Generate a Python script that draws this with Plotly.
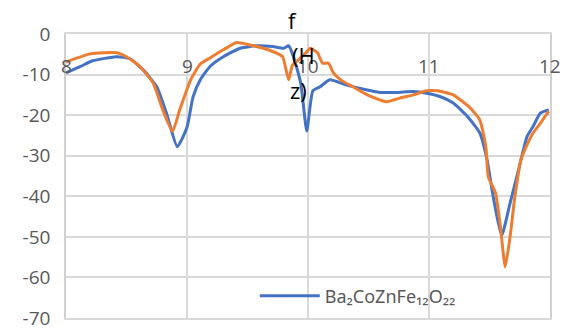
import plotly.graph_objects as go

blue_x = [8.0, 8.12, 8.22, 8.42, 8.53, 8.64, 8.75, 8.83, 8.92, 9.0, 9.05, 9.11, 9.19, 9.3, 9.44, 9.58,
          9.71, 9.8, 9.84, 9.88, 9.94, 9.99, 10.04, 10.1, 10.18, 10.32, 10.49, 10.6, 10.74, 10.87,
          10.98, 11.09, 11.2, 11.32, 11.42, 11.48, 11.53, 11.6, 11.67, 11.74, 11.81, 11.86, 11.92, 11.99]
blue_y = [-9.6, -8.0, -6.6, -5.6, -6.1, -8.9, -13, -19.5, -27.8, -23, -15.5, -11.3, -8, -5.6, -3.5, -2.9,
          -3.1, -3.5, -2.9, -5.6, -12.1, -23.9, -14, -13, -11.3, -12.6, -13.8, -14.4, -14.4, -14.2,
          -14.6, -15.4, -17, -20.4, -24.4, -31, -40, -49.7, -41.7, -33.5, -25.3, -22.8, -19.5, -18.7]

orange_x = [8.0, 8.2, 8.42, 8.5, 8.61, 8.72, 8.8, 8.88, 8.94, 9.03, 9.11, 9.19, 9.3, 9.41, 9.52, 9.63,
            9.74, 9.79, 9.84, 9.87, 9.92, 9.98, 10.02, 10.08, 10.12, 10.17, 10.21, 10.27, 10.37, 10.49,
            10.6, 10.65, 10.76, 10.87, 10.98, 11.07, 11.2, 11.34, 11.42, 11.47, 11.49, 11.55, 11.59,
            11.63, 11.67, 11.71, 11.76, 11.8, 11.86, 11.92, 11.99]
orange_y = [-6.9, -4.9, -4.6, -5.6, -8, -12.1, -18.7, -24, -18.7, -11.3, -7.4, -5.9, -3.9, -2.1, -2.7, -3.5,
            -4.7, -5.6, -11.3, -7.8, -6.4, -4.7, -3.5, -4.7, -7.2, -7.2, -9.6, -11.3, -13, -15,
            -16.3, -16.7, -15.8, -15, -14, -14, -15, -18.2, -21.2, -27.8, -35.2, -39.2, -47.5,
            -57.4, -50, -40, -31, -28, -24.4, -22, -19]

x_ticks = [8, 9, 10, 11, 12]
y_ticks = [0, -10, -20, -30, -40, -50, -60, -70]
y_tick_labels = ["0", "-10", "-20", "-30", "-40", "-50", "-60", "-70"]
series_name = "Ba₂CoZnFe₁₂O₂₂"
title_parts = ["f", "(H", "z)"]

fig = go.Figure()
fig.add_trace(go.Scatter(x=blue_x, y=blue_y, mode="lines", name=series_name,
                         line=dict(color="#4472C4", width=3, shape="spline", smoothing=0.5)))
fig.add_trace(go.Scatter(x=orange_x, y=orange_y, mode="lines", showlegend=False,
                         line=dict(color="#ED7D31", width=3, shape="spline", smoothing=0.5)))

font_fam = "'Open Sans', 'Noto Sans', sans-serif"
for t in x_ticks:
    fig.add_annotation(x=t, y=-8, text=str(t), showarrow=False, xanchor="center", yanchor="middle",
                       font=dict(family=font_fam, size=19, color="#595959"))

for txt, xx, yy in zip(title_parts, [0.469, 0.49, 0.481], [1.049, 0.926, 0.803]):
    fig.add_annotation(x=xx, y=yy, xref="paper", yref="paper", text=txt, showarrow=False,
                       xanchor="center", yanchor="middle",
                       font=dict(family=font_fam, size=22, color="#000000"))

fig.update_layout(
    width=561, height=328,
    margin=dict(l=66, r=11, t=34, b=10),
    paper_bgcolor="white", plot_bgcolor="white",
    font=dict(family=font_fam, color="#595959"),
    legend=dict(x=0.39, y=0.077, xanchor="left", yanchor="middle", bgcolor="rgba(0,0,0,0)",
                itemwidth=60,
                font=dict(family="'Noto Sans', sans-serif", size=18, color="#595959")),
    xaxis=dict(range=[8, 12], tickvals=x_ticks, showticklabels=False, showgrid=True,
               gridcolor="#D9D9D9", gridwidth=1.5, zeroline=False, showline=True, mirror=True,
               linecolor="#D9D9D9", linewidth=1.5, automargin=False),
    yaxis=dict(range=[-70, 0], tickvals=y_ticks, ticktext=y_tick_labels, showgrid=True,
               gridcolor="#D9D9D9", gridwidth=1.5, showline=True, mirror=True,
               linecolor="#D0D0D0", linewidth=1.5, ticklabeloverflow="allow", automargin=False,
               zeroline=False, tickfont=dict(size=19, color="#595959"),
               ticks="", ticklabelstandoff=10),
)

fig.write_html("out.html")
